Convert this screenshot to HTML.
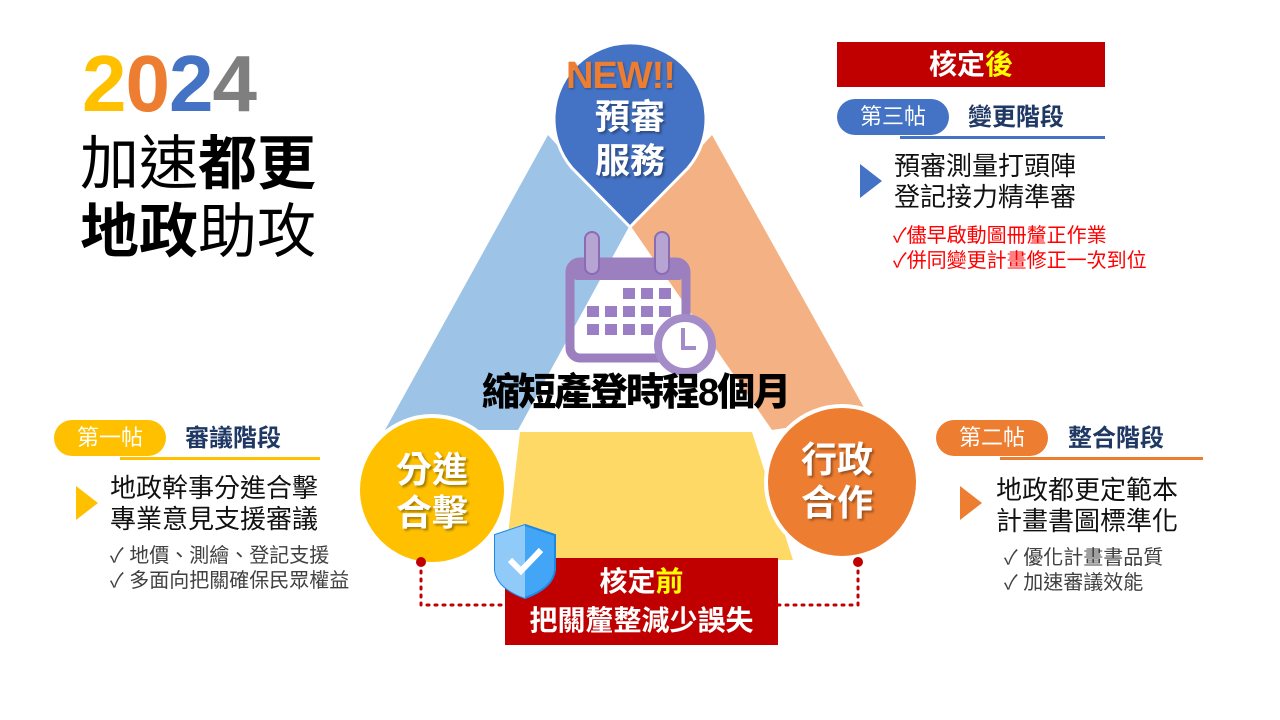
<!DOCTYPE html>
<html><head><meta charset="utf-8">
<style>
body{margin:0;width:1280px;height:720px;background:#fff;position:relative;overflow:hidden;font-family:"Liberation Sans","Noto Sans CJK TC",sans-serif}
.a{position:absolute;white-space:nowrap}
.pill{position:absolute;height:36px;border-radius:18px;color:#fff;font-size:22px;line-height:36px;text-align:center}
.ul{position:absolute;height:3px}
.tri{position:absolute;width:0;height:0;border-top:17px solid transparent;border-bottom:17px solid transparent}
.big{font-size:26px;line-height:31px;color:#111}
.sm{font-size:20px;line-height:25px}
.ct{color:#fff;font-weight:bold;font-size:36px;line-height:43px;text-shadow:2px 2px 2px rgba(0,0,0,.35);text-align:center}
</style></head><body>
<svg width="1280" height="720" style="position:absolute;left:0;top:0">
 <polygon points="548,135 385,430 518,430 630,225" fill="#9dc3e6"/>
 <polygon points="712,135 868,415 772,430 630,225" fill="#f4b183"/>
 <polygon points="520,432 752,432 793,560 505,560" fill="#ffd966"/>
 <circle cx="432" cy="490" r="74" fill="#ffc000" stroke="#fff" stroke-width="4"/>
 <circle cx="842" cy="482" r="76" fill="#ed7d31" stroke="#fff" stroke-width="4"/>
 <path d="M630,227 L572,168 A76,76 0 1 1 688,168 Z" fill="#4472c4" stroke="#fff" stroke-width="3"/>
 <!-- calendar -->
 <rect x="570" y="262" width="116" height="96" rx="10" fill="none" stroke="#9b7fbf" stroke-width="9"/>
 <rect x="570" y="258" width="116" height="22" rx="8" fill="#9b7fbf"/>
 <rect x="585" y="232" width="14" height="42" rx="7" fill="#b7a4d2" stroke="#8a6cb4" stroke-width="2"/>
 <rect x="655" y="232" width="14" height="42" rx="7" fill="#b7a4d2" stroke="#8a6cb4" stroke-width="2"/>
 <g fill="#9b7fc4">
  <rect x="623" y="288" width="12" height="11"/><rect x="641" y="288" width="12" height="11"/><rect x="659" y="288" width="12" height="11"/>
  <rect x="587" y="306" width="12" height="11"/><rect x="605" y="306" width="12" height="11"/><rect x="623" y="306" width="12" height="11"/><rect x="641" y="306" width="12" height="11"/><rect x="659" y="306" width="12" height="11"/>
  <rect x="587" y="324" width="12" height="11"/><rect x="605" y="324" width="12" height="11"/><rect x="623" y="324" width="12" height="11"/><rect x="641" y="324" width="12" height="11"/>
 </g>
 <circle cx="685" cy="345" r="27" fill="#fff" stroke="#a48cc8" stroke-width="8"/>
 <path d="M683,328 V348 H696" fill="none" stroke="#a48cc8" stroke-width="4"/>
 <!-- dotted -->
 <path d="M421,563 V605 H505 M778,605 H858 V563" fill="none" stroke="#c00000" stroke-width="3" stroke-dasharray="2,6" stroke-linecap="round"/>
 <circle cx="421" cy="562" r="5" fill="#c00000"/><circle cx="858" cy="562" r="5" fill="#c00000"/>
 <rect x="505" y="558" width="273" height="87" fill="#c00000"/>
 <path d="M525,525 L555,535 L555,570 Q553,588 525,598 Q497,588 495,570 L495,535 Z" fill="#42a5f5" stroke="#1e88e5" stroke-width="2"/>
 <path d="M525,525 L525,598 Q497,588 495,570 L495,535 Z" fill="#90caf9"/>
 <path d="M510,560 L521,571 L541,550" fill="none" stroke="#fff" stroke-width="6"/>
</svg>
<div class="a" style="left:82px;top:42px;font-size:80px;font-weight:bold;line-height:84px;letter-spacing:-1px"><span style="color:#ffc000">2</span><span style="color:#ed7d31">0</span><span style="color:#4472c4">2</span><span style="color:#7f7f7f">4</span></div>
<div class="a" style="left:80px;top:130px;font-size:59px;line-height:68px;color:#000">加速<b>都更</b><br><b>地政</b>助攻</div>

<div class="a" style="left:566px;top:54px;font-size:38px;font-weight:900;color:#ed7d31;line-height:44px;text-shadow:1px 1px 2px rgba(0,0,0,.3);letter-spacing:-1px">NEW!!</div>
<div class="a ct" style="left:592px;top:96px;width:76px;font-size:35px;line-height:44px">預審<br>服務</div>
<div class="a ct" style="left:392px;top:448px;width:80px">分進<br>合擊</div>
<div class="a ct" style="left:797px;top:438px;width:80px">行政<br>合作</div>
<div class="a" style="left:482px;top:370px;font-size:38px;font-weight:900;line-height:46px;color:#000;letter-spacing:-2px">縮短產登時程8個月</div>
<div class="a" style="left:505px;top:562px;width:273px;text-align:center;color:#fff;font-weight:bold;font-size:28px;line-height:39px">核定<span style="color:#ffff00">前</span><br>把關釐整減少誤失</div>

<!-- right top -->
<div class="a" style="left:837px;top:42px;width:268px;height:45px;background:#c00000;color:#fff;font-weight:bold;font-size:28px;line-height:45px;text-align:center">核定<span style="color:#ffff00">後</span></div>
<div class="pill" style="left:837px;top:99px;width:112px;background:#4472c4">第三帖</div>
<div class="ul" style="left:900px;top:136px;width:205px;background:#4472c4"></div>
<div class="a" style="left:968px;top:101px;font-size:24px;font-weight:bold;color:#1f3864;line-height:34px">變更階段</div>
<div class="tri" style="left:860px;top:164px;border-left:22px solid #4472c4"></div>
<div class="a big" style="left:894px;top:151px">預審測量打頭陣<br>登記接力精準審</div>
<div class="a sm" style="left:893px;top:224px;color:#ff0000">✓儘早啟動圖冊釐正作業<br>✓併同變更計畫修正一次到位</div>

<!-- left -->
<div class="pill" style="left:54px;top:420px;width:112px;background:#ffc000">第一帖</div>
<div class="ul" style="left:120px;top:457px;width:200px;background:#ffc000"></div>
<div class="a" style="left:185px;top:422px;font-size:24px;font-weight:bold;color:#1f3864;line-height:34px">審議階段</div>
<div class="tri" style="left:76px;top:486px;border-left:22px solid #ffc000"></div>
<div class="a big" style="left:110px;top:473px">地政幹事分進合擊<br>專業意見支援審議</div>
<div class="a sm" style="left:110px;top:544px;color:#404040">✓ 地價、測繪、登記支援<br>✓ 多面向把關確保民眾權益</div>

<!-- right bottom -->
<div class="pill" style="left:936px;top:420px;width:112px;background:#ed7d31">第二帖</div>
<div class="ul" style="left:1000px;top:457px;width:203px;background:#ed7d31"></div>
<div class="a" style="left:1068px;top:422px;font-size:24px;font-weight:bold;color:#1f3864;line-height:34px">整合階段</div>
<div class="tri" style="left:960px;top:486px;border-left:22px solid #ed7d31"></div>
<div class="a big" style="left:996px;top:475px">地政都更定範本<br>計畫書圖標準化</div>
<div class="a sm" style="left:1004px;top:546px;color:#404040">✓ 優化計畫書品質<br>✓ 加速審議效能</div>
</body></html>
